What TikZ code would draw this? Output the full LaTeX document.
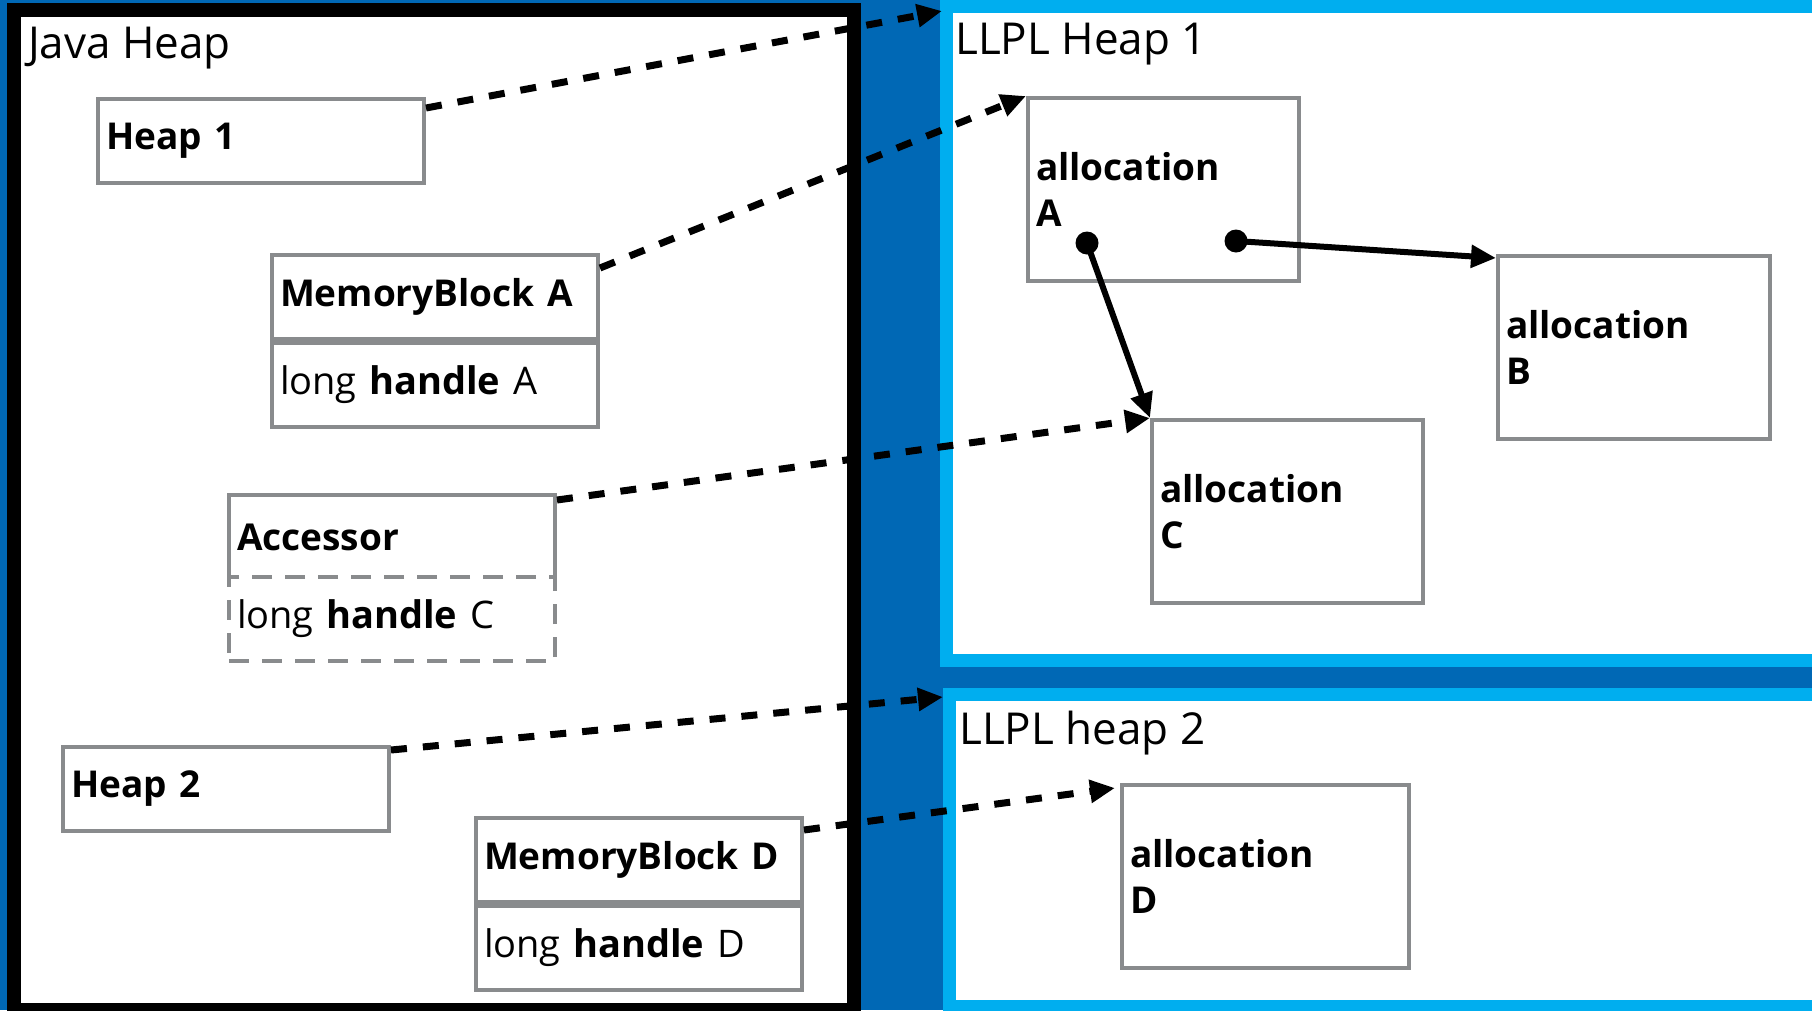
\documentclass[tikz,border=0pt]{standalone}
\usepackage{fontspec}
\setmainfont{Open Sans}
\usetikzlibrary{arrows.meta}
\definecolor{intelBlue}{RGB}{0,104,181}
\definecolor{lightBlue}{RGB}{0,174,239}
\definecolor{boxGray}{RGB}{137,139,141}
\tikzset{
  heapArea/.style={anchor=north west, fill=white, inner sep=0pt},
  heapTitle/.style={anchor=base west, inner sep=0pt, font=\fontsize{44}{52}\selectfont},
  jbox/.style={draw=boxGray, line width=4pt, fill=white, anchor=north west,
    text width=310pt, inner xsep=8pt, minimum height=84pt, align=left,
    font=\fontsize{38}{46}\selectfont},
  boldBox/.style={jbox, font=\bfseries\fontsize{37}{46}\selectfont},
  allocBox/.style={boldBox, text width=255pt, minimum height=183pt},
  handleDash/.style={dash pattern=on 20pt off 13pt, yshift=6pt},
  ptrArrow/.style={line width=7pt, dash pattern=on 16pt off 16pt,
    -{Triangle[length=25pt,width=22pt]}},
  refArrow/.style={line width=6pt, -{Triangle[length=25pt,width=22pt]}}
}
\begin{document}
\begin{tikzpicture}[x=1pt, y=-1pt]
  \useasboundingbox (0,0) rectangle (1812,1010);
  \clip (0,0) rectangle (1812,1010);
  \fill[intelBlue] (0,0) rectangle (1812,1010);
  % the three heaps
  \node[heapArea, draw=black, line width=14pt, minimum width=840pt,
    minimum height=1000pt] (javaHeap) at (7,3) {};
  \node[heapArea, draw=lightBlue, line width=13pt, minimum width=884pt,
    minimum height=654pt] (llplOne) at (940,0) {};
  \node[heapArea, draw=lightBlue, line width=13pt, minimum width=880pt,
    minimum height=312pt] (llplTwo) at (943,688) {};
  \node[heapTitle] (javaTitle) at (28,58) {Java Heap};
  \node[heapTitle] (llplOneTitle) at (955,54) {LLPL Heap 1};
  \node[heapTitle] (llplTwoTitle) at (959,744) {LLPL heap 2};
  % java side objects
  \newcommand{\drawBlock}[5]{
    \node[boldBox] (#1) at (#2) {#3};
    \node[jbox, #5] (#1Handle) at (#1.south west) {long \textbf{handle} #4}; }
  \node[boldBox] (heapOne) at (96,97) {Heap 1};
  \node[boldBox] (heapTwo) at (61,745) {Heap 2};
  \drawBlock{memA}{270,253}{MemoryBlock A}{A}{}
  \drawBlock{accessor}{227,493}{Accessor}{C}{handleDash}
  \drawBlock{memD}{474,816}{MemoryBlock D}{D}{}
  % native allocations
  \foreach \nm/\xx/\yy/\tw in {A/1026/96/255pt, B/1496/254/256pt,
      C/1150/418/255pt, D/1120/783/271pt}
    \node[allocBox, text width=\tw] (alloc\nm) at (\xx,\yy) {allocation\\\nm};
  % pointers
  \draw[ptrArrow] ([yshift=-11pt]heapOne.north east) -- ([shift={(2pt,-11pt)}]llplOne.north west);
  \draw[ptrArrow] ([yshift=-15pt]memA.north east) -- (allocA.north west);
  \draw[ptrArrow] ([yshift=-7pt]accessor.north east) -- (allocC.north west);
  \draw[ptrArrow] ([yshift=-5pt]heapTwo.north east) -- ([yshift=-9pt]llplTwo.north west);
  \draw[ptrArrow] ([yshift=-14pt]memD.north east) -- ([shift={(-5pt,-5pt)}]allocD.north west);
  \coordinate (dotC) at (1087,243);
  \coordinate (dotB) at (1236,241);
  \fill (dotC) circle[radius=11.5pt] (dotB) circle[radius=11.5pt];
  \draw[refArrow] (dotC) -- (allocC.north west);
  \draw[refArrow] (dotB) -- ([yshift=-4pt]allocB.north west);
\end{tikzpicture}
\end{document}
